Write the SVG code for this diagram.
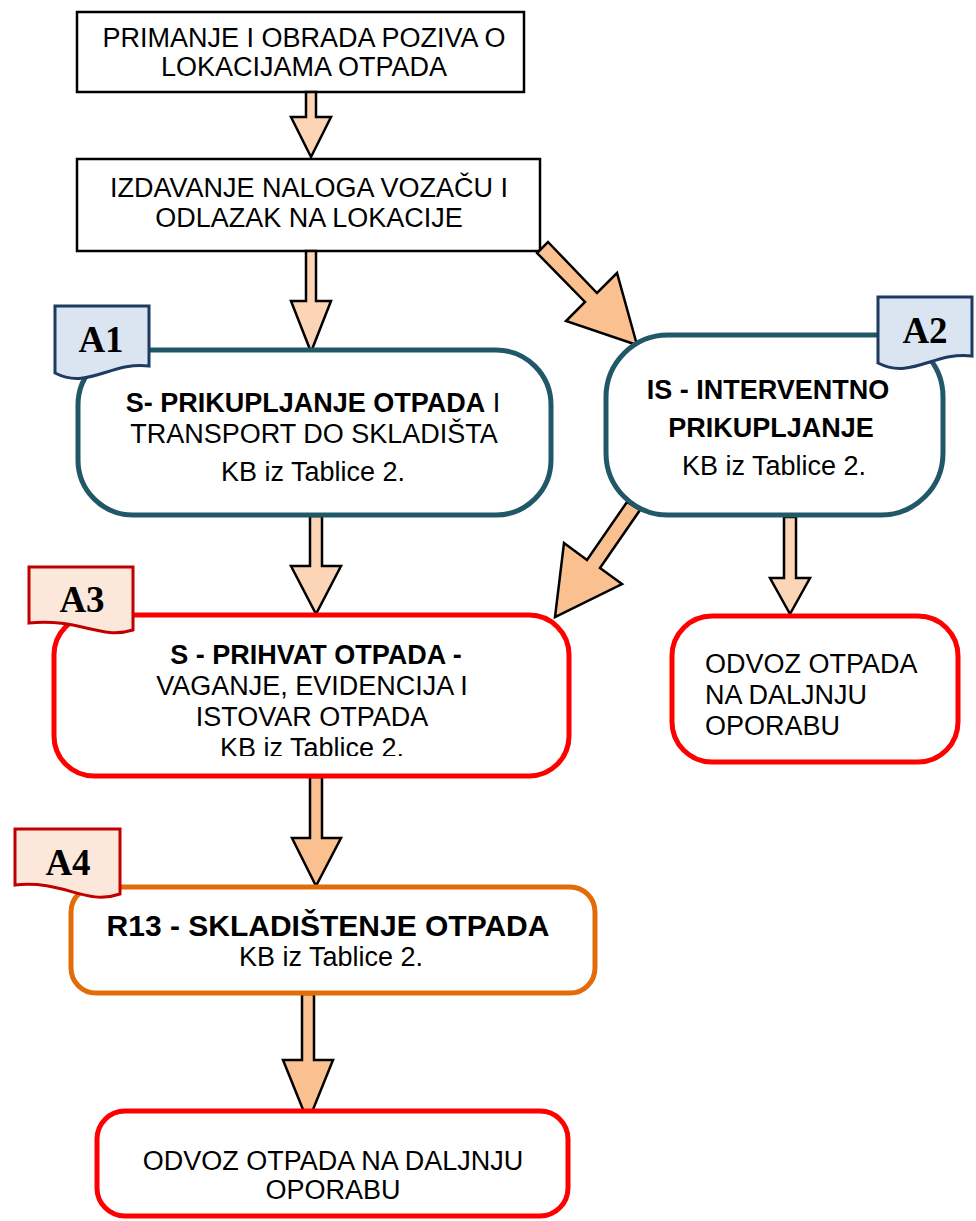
<svg xmlns="http://www.w3.org/2000/svg" width="976" height="1221" viewBox="0 0 976 1221">
<defs>
<style>
.t{font-family:"Liberation Sans",Arial,sans-serif;font-size:27px;fill:#000}
.b{font-weight:bold}
.rect{fill:#fff;stroke:#000;stroke-width:2.5}
.teal{fill:#fff;stroke:#215868;stroke-width:5}
.red{fill:#fff;stroke:#FF0000;stroke-width:5}
.orange{fill:#fff;stroke:#E36C0A;stroke-width:5}
.tagb{fill:#DBE5F1;stroke:#1F3A60;stroke-width:3}
.tagr{fill:#FCE8DA;stroke:#C00000;stroke-width:3}
.tl{font-family:"Liberation Serif","Times New Roman",serif;font-weight:bold;font-size:37px;fill:#000}
.al{fill:#FBD5B5;stroke:#000;stroke-width:2.5;stroke-linejoin:miter}
.ad{fill:#FAC090;stroke:#000;stroke-width:2.5;stroke-linejoin:miter}
</style>
<clipPath id="clipA3"><rect x="0" y="600" width="976" height="156"/></clipPath>
</defs>
<rect width="976" height="1221" fill="#fff"/>

<g id="n1">
<rect class="rect" x="77" y="12" width="447" height="80"/>
<text class="t" text-anchor="middle" x="304" y="47">PRIMANJE I OBRADA POZIVA O</text>
<text class="t" text-anchor="middle" x="304" y="76">LOKACIJAMA OTPADA</text>
</g>

<g id="n2">
<rect class="rect" x="77" y="159" width="463" height="92"/>
<text class="t" text-anchor="middle" x="309" y="197">IZDAVANJE NALOGA VOZAČU I</text>
<text class="t" text-anchor="middle" x="309" y="227">ODLAZAK NA LOKACIJE</text>
</g>

<g id="connectors">
<polygon class="al" points="306,92 316,92 316,117 331,117 311,157 291,117 306,117"/>
<polygon class="al" points="306,251 316,251 316,301 331,301 311,352 291,301 306,301"/>
<polygon class="ad" points="548,242 597,293 617,273 637,345 566,321 585,302 537,253"/>
<polygon class="ad" points="627,502 640,510 600,568 622,584 555,617 564,543 587,560"/>
<polygon class="al" points="310,516 322,516 322,566 341,566 316,614 291,566 310,566"/>
<polygon class="al" points="784,517 796,517 796,578 810,578 790,614 770,578 784,578"/>
<polygon class="ad" points="310,777 322,777 322,838 341,838 316,886 292,838 310,838"/>
<polygon class="ad" points="302,994 314,994 314,1060 333,1060 308,1122 283,1060 302,1060"/>
</g>

<g id="a1">
<rect class="teal" x="78" y="350" width="473" height="165" rx="55" ry="55"/>
<text class="t" text-anchor="middle" x="313" y="412"><tspan class="b">S- PRIKUPLJANJE OTPADA</tspan> I</text>
<text class="t" text-anchor="middle" x="314" y="443">TRANSPORT DO SKLADIŠTA</text>
<text class="t" text-anchor="middle" x="313" y="481">KB iz Tablice 2.</text>
</g>
<g id="tagA1">
<path class="tagb" d="M55,306 H149 V366 C112,361 88,390 55,373 Z"/>
<text class="tl" text-anchor="middle" x="101" y="352">A1</text>
</g>

<g id="a2">
<rect class="teal" x="606" y="335" width="337" height="180" rx="62" ry="62"/>
<text class="t b" text-anchor="middle" x="768" y="399">IS - INTERVENTNO</text>
<text class="t b" text-anchor="middle" x="771" y="437">PRIKUPLJANJE</text>
<text class="t" text-anchor="middle" x="774" y="475">KB iz Tablice 2.</text>
</g>
<g id="tagA2">
<path class="tagb" d="M878,297 H972 V356 C935,351 911,380 878,363 Z"/>
<text class="tl" text-anchor="middle" x="925" y="343">A2</text>
</g>

<g id="odvoz1">
<rect class="red" x="672" y="616" width="286" height="146" rx="40" ry="40"/>
<text class="t" x="705" y="673">ODVOZ OTPADA</text>
<text class="t" x="705" y="704">NA DALJNJU</text>
<text class="t" x="705" y="735">OPORABU</text>
</g>

<g id="a3">
<rect class="red" x="54" y="615" width="515" height="161" rx="40" ry="40"/>
<g clip-path="url(#clipA3)">
<text class="t b" text-anchor="middle" x="316" y="664">S - PRIHVAT OTPADA -</text>
<text class="t" text-anchor="middle" x="312" y="695">VAGANJE, EVIDENCIJA I</text>
<text class="t" text-anchor="middle" x="312" y="726">ISTOVAR OTPADA</text>
<text class="t" text-anchor="middle" x="312" y="757">KB iz Tablice 2.</text>
</g>
</g>
<g id="tagA3">
<path class="tagr" d="M29,567 H133 V630 C100,640 80,618 29,623 Z"/>
<text class="tl" text-anchor="middle" x="82" y="612">A3</text>
</g>

<g id="a4">
<rect class="orange" x="71" y="887" width="524" height="106" rx="25" ry="25"/>
<text class="t b" text-anchor="middle" x="328" y="936" style="font-size:30px">R13 - SKLADIŠTENJE OTPADA</text>
<text class="t" text-anchor="middle" x="331" y="966">KB iz Tablice 2.</text>
</g>
<g id="tagA4">
<path class="tagr" d="M15,829 H120 V894 C85,906 65,880 15,885 Z"/>
<text class="tl" text-anchor="middle" x="68" y="875">A4</text>
</g>

<g id="odvoz2">
<rect class="red" x="97" y="1111" width="471" height="105" rx="28" ry="28"/>
<text class="t" text-anchor="middle" x="333" y="1170">ODVOZ OTPADA NA DALJNJU</text>
<text class="t" text-anchor="middle" x="333" y="1199">OPORABU</text>
</g>
</svg>
